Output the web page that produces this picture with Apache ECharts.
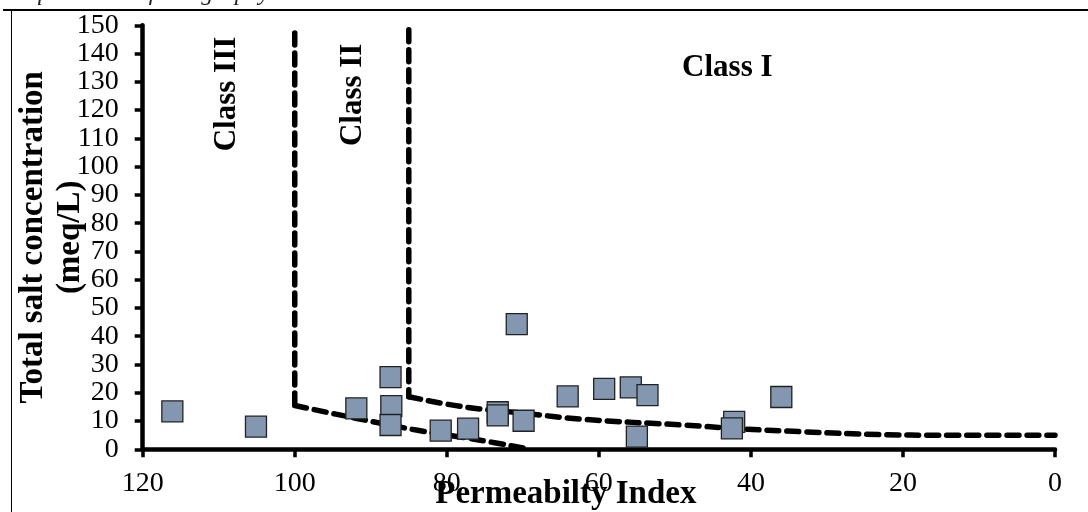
<!DOCTYPE html>
<html>
<head>
<meta charset="utf-8">
<script src="https://cdn.jsdelivr.net/npm/echarts@6/dist/echarts.min.js"></script>
<style>html,body{margin:0;padding:0;background:#fff;}#c{width:1088px;height:512px;}</style>
</head>
<body>
<div id="c"></div>
<script>
// Samples: [Permeability Index, Total salt concentration (meq/L)]
const samples = [
  [116.1, 13.4], [105.1, 8.0], [91.9, 14.5], [87.4, 25.5], [87.3, 15.3],
  [87.4, 8.6], [80.8, 6.6], [77.2, 7.3], [73.3, 13.1], [73.3, 12.0],
  [69.9, 10.1], [70.8, 44.3], [64.1, 18.7], [59.3, 21.4], [55.8, 21.9],
  [53.6, 19.2], [55.0, 4.5], [42.2, 9.7], [42.5, 7.4], [36.0, 18.5]
];
// Class boundaries
const boundaryIIIVertical = [[100, 147.3], [100, 15.5]];
const boundaryIIICurve = [[100, 15.5], [92, 11.0], [84, 6.8], [76, 3.4], [69, 0]];
const boundaryIIVertical = [[85, 148.4], [85, 18.6]];
const boundaryIICurve = [[85, 18.6], [78, 15.1], [70, 12.8], [62, 10.6], [49, 8.6], [41, 7.2], [33, 6.2], [23, 5.2], [15, 5.0], [0, 5.0]];
// Class annotations [x, y, text, rotated]
const classLabels = [
  [108.9, 125.7, 'Class III', true],
  [92.4, 125.4, 'Class II', true],
  [43.1, 134.9, 'Class I', false]
];
const xTicks = {min: 0, max: 120, interval: 20};
const yTicks = {min: 0, max: 150, interval: 10};

const FONT = 'Liberation Serif, Times New Roman, serif';
const chart = echarts.init(document.getElementById('c'), null, {renderer: 'canvas'});
const dash = {color: '#000', width: 5.5, type: [12, 8], cap: 'round'};
function boundary(data, smooth) {
  return {type: 'line', data: data, showSymbol: false, symbol: 'none', smooth: smooth,
    lineStyle: dash, silent: true, z: 1, animation: false};
}
chart.setOption({
  animation: false,
  backgroundColor: '#fff',
  grid: {left: 142.7, right: 33, top: 25.3, bottom: 62.7, containLabel: false, outerBoundsMode: 'none'},
  xAxis: {
    type: 'value', inverse: true, min: xTicks.min, max: xTicks.max, interval: xTicks.interval,
    name: 'Permeabilty Index', nameLocation: 'middle', nameGap: 29, nameMoveOverlap: false,
    nameTextStyle: {fontFamily: FONT, fontWeight: 'bold', fontSize: 33, color: '#000', padding: [0, 66, 0, 0]},
    axisLine: {show: true, onZero: false, lineStyle: {color: '#000', width: 4.5}},
    axisTick: {show: true, inside: false, length: 8, lineStyle: {color: '#000', width: 3.5}},
    axisLabel: {fontFamily: FONT, fontSize: 28, color: '#000', margin: 20, showMinLabel: true, showMaxLabel: true, hideOverlap: false},
    splitLine: {show: false}
  },
  yAxis: {
    type: 'value', min: yTicks.min, max: yTicks.max, interval: yTicks.interval,
    name: 'Total salt concentration\n(meq/L)', nameLocation: 'middle', nameGap: 54, nameRotate: 90, nameMoveOverlap: false,
    nameTextStyle: {fontFamily: FONT, fontWeight: 'bold', fontSize: 33, color: '#000', lineHeight: 37},
    axisLine: {show: true, onZero: false, lineStyle: {color: '#000', width: 4.5}},
    axisTick: {show: true, inside: false, length: 8, lineStyle: {color: '#000', width: 3.5}},
    axisLabel: {fontFamily: FONT, fontSize: 28, color: '#000', margin: 24, showMinLabel: true, showMaxLabel: true, hideOverlap: false},
    splitLine: {show: false}
  },
  series: [
    boundary(boundaryIIIVertical, false),
    boundary(boundaryIIICurve, 0.4),
    boundary(boundaryIIVertical, false),
    boundary(boundaryIICurve, 0.4),
    {
      type: 'scatter', data: samples, symbol: 'rect', symbolSize: 21, z: 3,
      itemStyle: {color: '#8497B0', borderColor: '#222', borderWidth: 1.3, opacity: 1}
    },
    {
      type: 'scatter', symbolSize: 1, silent: true, z: 4,
      itemStyle: {opacity: 0},
      data: classLabels.map(c => ({value: [c[0], c[1]], label: {show: true, position: 'inside', opacity: 1,
        formatter: c[2], rotate: c[3] ? 90 : 0, fontFamily: FONT, fontWeight: 'bold', fontSize: 31, color: '#000',
        textBorderWidth: 0}}))
    }
  ],
  graphic: [
    {type: 'text', left: 2, top: -18, silent: true,
      style: {text: 'Iraqi Journal of Geography Volume', font: 'italic 24px ' + FONT, fill: '#222'}},
    {type: 'line', silent: true, shape: {x1: 3, y1: 10, x2: 1088, y2: 10}, style: {stroke: '#000', lineWidth: 2}},
    {type: 'line', silent: true, shape: {x1: 11.5, y1: 10, x2: 11.5, y2: 512}, style: {stroke: '#000', lineWidth: 1}}
  ]
});
</script>
</body>
</html>
